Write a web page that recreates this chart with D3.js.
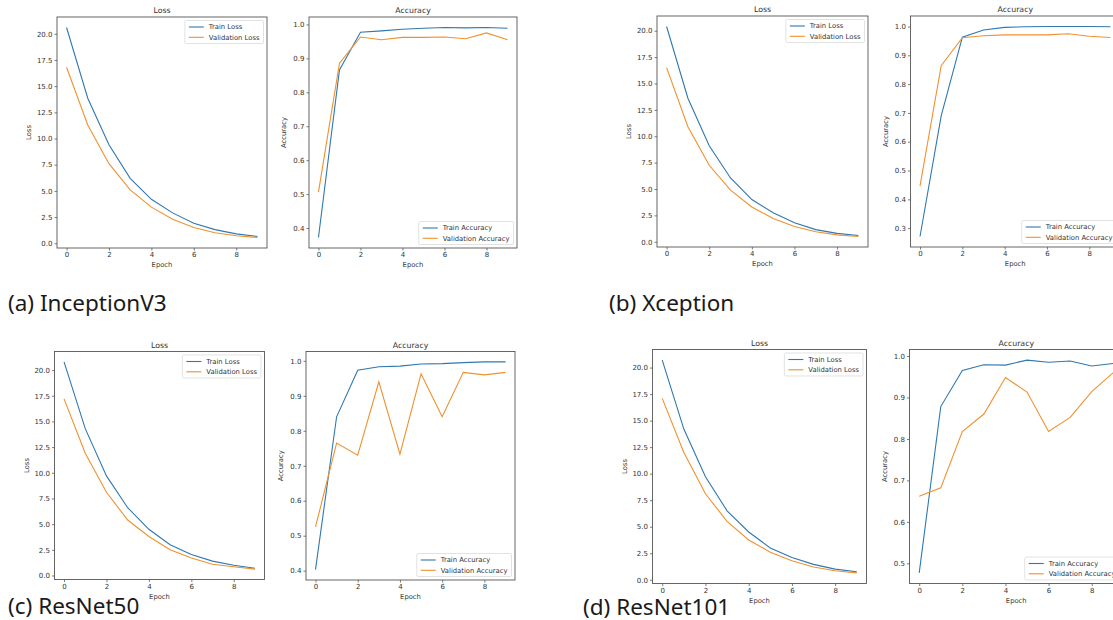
<!DOCTYPE html>
<html><head><meta charset="utf-8">
<script src="https://cdn.jsdelivr.net/npm/d3@7"></script>
<style>body{margin:0;background:#fff} svg{display:block}</style>
</head><body>
<svg id="c" width="1113" height="620"></svg>
<script>
// ---------- data ----------
const epochs = [0,1,2,3,4,5,6,7,8,9];
const xTickValues = [0,2,4,6,8];
const lossTickValues = [0,2.5,5,7.5,10,12.5,15,17.5,20];
const accTicksA = [0.4,0.5,0.6,0.7,0.8,0.9,1.0];
const accTicksB = [0.3,0.4,0.5,0.6,0.7,0.8,0.9,1.0];
const accTicksC = [0.4,0.5,0.6,0.7,0.8,0.9,1.0];
const accTicksD = [0.5,0.6,0.7,0.8,0.9,1.0];

const incepTrainLoss = [20.6, 13.85, 9.4, 6.2, 4.2, 2.9, 1.9, 1.3, 0.9, 0.65];
const incepValLoss   = [16.8, 11.3, 7.6, 5.1, 3.45, 2.3, 1.5, 1.0, 0.72, 0.55];
const incepTrainAcc  = [0.372, 0.866, 0.977, 0.981, 0.986, 0.989, 0.991, 0.990, 0.991, 0.989];
const incepValAcc    = [0.506, 0.886, 0.963, 0.955, 0.962, 0.962, 0.963, 0.958, 0.975, 0.955];

const xcepTrainLoss = [20.4, 13.6, 9.1, 6.05, 4.0, 2.75, 1.8, 1.15, 0.8, 0.6];
const xcepValLoss   = [16.5, 10.9, 7.25, 4.9, 3.3, 2.2, 1.45, 0.95, 0.65, 0.5];
const xcepTrainAcc  = [0.271, 0.69, 0.963, 0.988, 0.997, 0.999, 1.0, 1.0, 1.0, 0.999];
const xcepValAcc    = [0.447, 0.864, 0.961, 0.968, 0.971, 0.971, 0.971, 0.975, 0.966, 0.962];

const res50TrainLoss = [20.8, 14.3, 9.7, 6.6, 4.5, 3.0, 2.05, 1.4, 1.0, 0.7];
const res50ValLoss   = [17.2, 11.9, 8.1, 5.4, 3.8, 2.5, 1.7, 1.1, 0.85, 0.62];
const res50TrainAcc  = [0.403, 0.84, 0.973, 0.983, 0.985, 0.991, 0.992, 0.995, 0.997, 0.997];
const res50ValAcc    = [0.525, 0.765, 0.73, 0.94, 0.733, 0.963, 0.84, 0.967, 0.96, 0.967];

const res101TrainLoss = [20.7, 14.2, 9.7, 6.5, 4.5, 3.0, 2.1, 1.45, 1.0, 0.75];
const res101ValLoss   = [17.1, 12.0, 8.1, 5.5, 3.75, 2.6, 1.8, 1.2, 0.85, 0.65];
const res101TrainAcc  = [0.477, 0.878, 0.965, 0.979, 0.978, 0.99, 0.985, 0.988, 0.976, 0.982];
const res101ValAcc    = [0.662, 0.682, 0.818, 0.86, 0.948, 0.913, 0.818, 0.852, 0.914, 0.96];

const captions = ["(a) InceptionV3", "(b) Xception", "(c) ResNet50", "(d) ResNet101"];

// ---------- layout ----------
const panels = [
  {box:[57,17,267,248], title:"Loss", ylab:"Loss", tr:incepTrainLoss, va:incepValLoss, names:["Train Loss","Validation Loss"], yt:lossTickValues, leg:"upper", labOff:26},
  {box:[309,17,517,248], title:"Accuracy", ylab:"Accuracy", tr:incepTrainAcc, va:incepValAcc, names:["Train Accuracy","Validation Accuracy"], yt:accTicksA, leg:"lower", labOff:23},
  {box:[657,16,868,247], title:"Loss", ylab:"Loss", tr:xcepTrainLoss, va:xcepValLoss, names:["Train Loss","Validation Loss"], yt:lossTickValues, leg:"upper", labOff:26},
  {box:[910.5,16,1120,247], title:"Accuracy", ylab:"Accuracy", tr:xcepTrainAcc, va:xcepValAcc, names:["Train Accuracy","Validation Accuracy"], yt:accTicksB, leg:"lower", labOff:23},
  {box:[54.5,351.5,264.5,579.5], title:"Loss", ylab:"Loss", tr:res50TrainLoss, va:res50ValLoss, names:["Train Loss","Validation Loss"], yt:lossTickValues, leg:"upper", labOff:26},
  {box:[306,351.5,515,580], title:"Accuracy", ylab:"Accuracy", tr:res50TrainAcc, va:res50ValAcc, names:["Train Accuracy","Validation Accuracy"], yt:accTicksC, leg:"lower", labOff:23},
  {box:[652.5,349.5,866.5,583.5], title:"Loss", ylab:"Loss", tr:res101TrainLoss, va:res101ValLoss, names:["Train Loss","Validation Loss"], yt:lossTickValues, leg:"upper", labOff:26},
  {box:[909.5,349.5,1123,583.5], title:"Accuracy", ylab:"Accuracy", tr:res101TrainAcc, va:res101ValAcc, names:["Train Accuracy","Validation Accuracy"], yt:accTicksD, leg:"lower", labOff:23}
];
const captionPos = [[8,311],[609,311],[8,614],[583,614.5]];

const BLUE = "#2f78b1", ORANGE = "#f0912f";
const FONT = "DejaVu Sans, sans-serif";
const svg = d3.select("#c");

panels.forEach((p, i) => {
  const [l,t,r,b] = p.box;
  const g = svg.append("g");
  const x = d3.scaleLinear().domain([-0.45, 9.45]).range([l, r]);
  const all = p.tr.concat(p.va);
  const mn = d3.min(all), mx = d3.max(all), pad = (mx - mn) * 0.05;
  const y = d3.scaleLinear().domain([mn - pad, mx + pad]).range([b, t]);

  const cid = "clip" + i;
  g.append("clipPath").attr("id", cid).append("rect")
    .attr("x", l).attr("y", t).attr("width", r - l).attr("height", b - t);

  const line = d3.line().x((d, k) => x(epochs[k])).y(d => y(d));
  g.append("path").datum(p.tr).attr("clip-path", `url(#${cid})`)
    .attr("d", line).attr("fill", "none").attr("stroke", BLUE).attr("stroke-width", 1.1);
  g.append("path").datum(p.va).attr("clip-path", `url(#${cid})`)
    .attr("d", line).attr("fill", "none").attr("stroke", ORANGE).attr("stroke-width", 1.1);

  // axes
  const xa = g.append("g").attr("transform", `translate(0,${b})`)
    .call(d3.axisBottom(x).tickValues(xTickValues).tickSize(2.5).tickPadding(2).tickFormat(d3.format("d")));
  const ya = g.append("g").attr("transform", `translate(${l},0)`)
    .call(d3.axisLeft(y).tickValues(p.yt).tickSize(2.5).tickPadding(2).tickFormat(d3.format(".1f")));
  [xa, ya].forEach(a => {
    a.select(".domain").remove();
    a.selectAll("line").attr("stroke", "#444").attr("stroke-width", 0.7);
    a.selectAll("text").attr("font-family", FONT).attr("font-size", 7).attr("fill", "#333");
  });

  // spines
  g.append("rect").attr("x", l).attr("y", t).attr("width", r - l).attr("height", b - t)
    .attr("fill", "none").attr("stroke", "#555").attr("stroke-width", 0.9);

  // title & labels
  g.append("text").attr("x", (l + r) / 2).attr("y", t - 4).attr("text-anchor", "middle")
    .attr("font-family", FONT).attr("font-size", 7.8).attr("fill", "#333").text(p.title);
  g.append("text").attr("x", (l + r) / 2).attr("y", b + 19).attr("text-anchor", "middle")
    .attr("font-family", FONT).attr("font-size", 6.8).attr("fill", "#333").text("Epoch");
  g.append("text").attr("transform", `translate(${l - p.labOff},${(t + b) / 2}) rotate(-90)`)
    .attr("text-anchor", "middle").attr("font-family", FONT).attr("font-size", 6.8).attr("fill", "#333").text(p.ylab);

  // legend
  const lg = g.append("g");
  const items = [[p.names[0], BLUE], [p.names[1], ORANGE]];
  const tw = [];
  const tmp = items.map(([nm]) => {
    const tx = lg.append("text").attr("font-family", FONT).attr("font-size", 6.8).attr("fill", "#333").text(nm);
    tw.push(tx.node().getComputedTextLength());
    return tx;
  });
  const w = 4 + 15 + 5 + d3.max(tw) + 4, h = 23;
  const lx = r - 3.5 - w;
  const ly = p.leg === "upper" ? t + 3.5 : b - 3.5 - h;
  lg.insert("rect", ":first-child").attr("x", lx).attr("y", ly).attr("width", w).attr("height", h)
    .attr("rx", 1.5).attr("fill", "#fff").attr("fill-opacity", 0.85).attr("stroke", "#d6d6d6").attr("stroke-width", 0.7);
  items.forEach(([nm, col], k) => {
    const cy = ly + 6.5 + k * 10.3;
    lg.append("line").attr("x1", lx + 4).attr("x2", lx + 19).attr("y1", cy).attr("y2", cy)
      .attr("stroke", col).attr("stroke-width", 1.1);
    tmp[k].attr("x", lx + 24).attr("y", cy + 2.4);
  });
});

captions.forEach((c, i) => {
  svg.append("text").attr("x", captionPos[i][0]).attr("y", captionPos[i][1])
    .attr("font-family", "Noto Sans, Open Sans, sans-serif").attr("font-size", 22.5).attr("fill", "#1a1a1a").text(c);
});
</script>
</body></html>
